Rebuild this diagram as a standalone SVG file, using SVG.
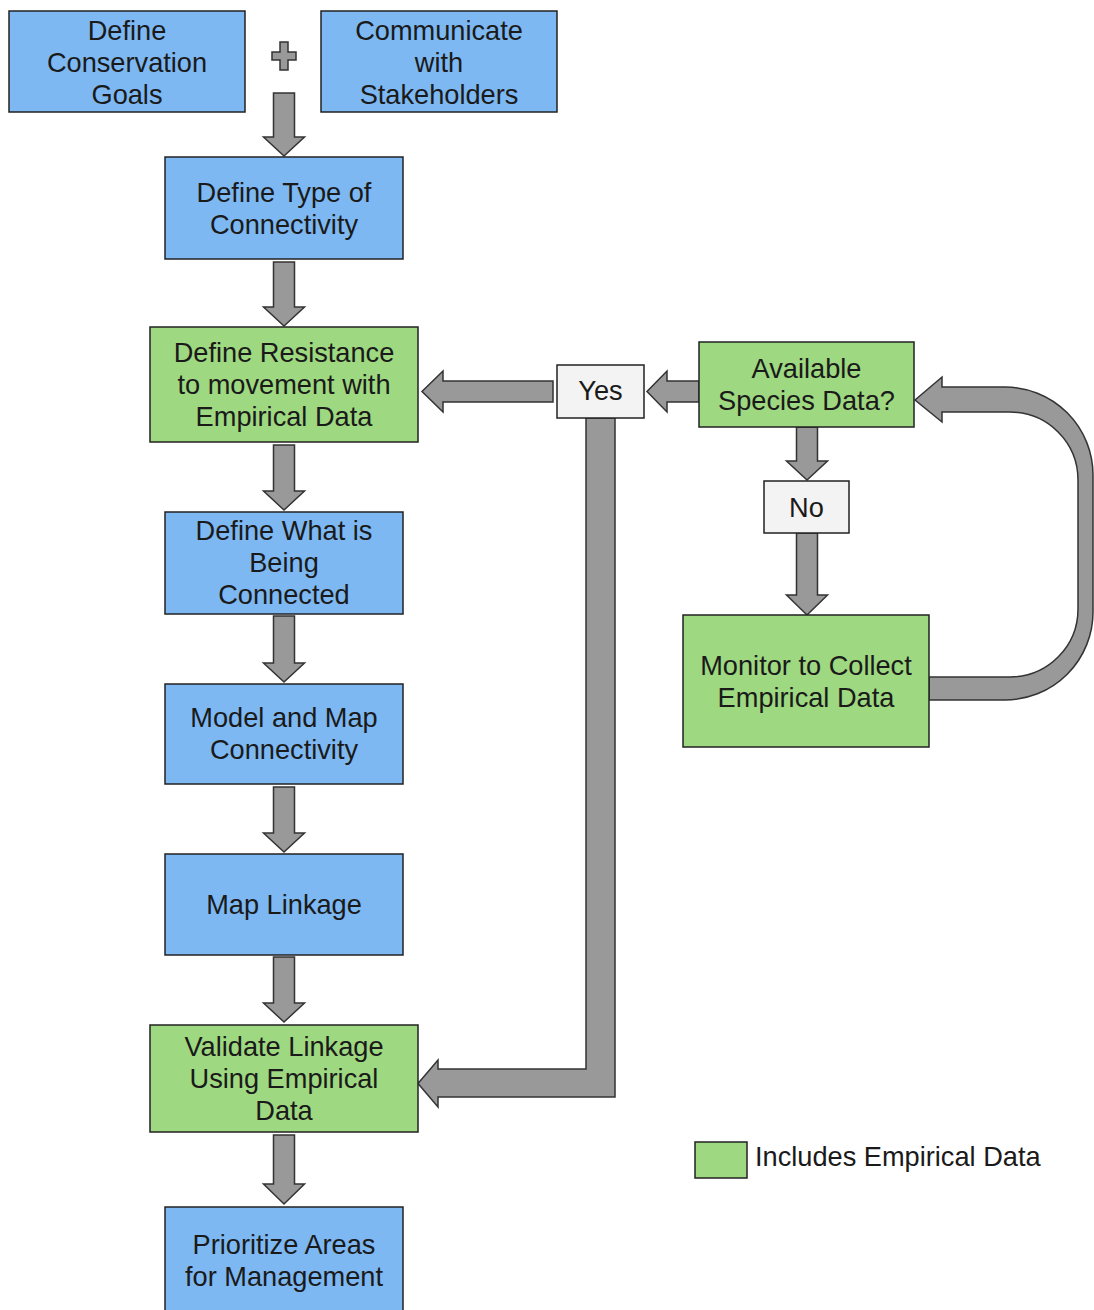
<svg xmlns="http://www.w3.org/2000/svg" width="1094" height="1310" viewBox="0 0 1094 1310">
<style>
.blue{fill:#7db8f2;stroke:#222;stroke-width:1.5}
.green{fill:#9ed880;stroke:#222;stroke-width:1.5}
.lbl{fill:#f3f3f3;stroke:#222;stroke-width:1.5}
.arr{fill:#999;stroke:#333;stroke-width:1.5;stroke-linejoin:miter}
text{font-family:"Liberation Sans",Arial,sans-serif;font-size:27.2px;fill:#1a1a1a;text-anchor:middle}
.leg{text-anchor:start}
</style>
<rect width="1094" height="1310" fill="#fff"/>
<g id="connectors">
<g id="plus"><path class="arr" d="M280,42h8v10h8v8h-8v10h-8v-10h-8v-8h8z"/></g>
<path class="arr" d="M273.5,93h21v44h10l-20.5,19l-20.5,-19h10z"/>
<path class="arr" d="M273.5,262h21v45h10l-20.5,19l-20.5,-19h10z"/>
<path class="arr" d="M273.5,445h21v46h10l-20.5,19l-20.5,-19h10z"/>
<path class="arr" d="M273.5,616h21v47h10l-20.5,19l-20.5,-19h10z"/>
<path class="arr" d="M273.5,787h21v46h10l-20.5,19l-20.5,-19h10z"/>
<path class="arr" d="M273.5,957h21v46h10l-20.5,19l-20.5,-19h10z"/>
<path class="arr" d="M273.5,1135h21v49h10l-20.5,20l-20.5,-20h10z"/>
<path class="arr" d="M553,381v21h-110v10l-21,-20.5l21,-20.5v10z"/>
<path class="arr" d="M699,381v21h-32v10l-20,-20.5l20,-20.5v10z"/>
<path class="arr" d="M796.5,427h21v34h10l-20.5,19l-20.5,-19h10z"/>
<path class="arr" d="M796.5,533h21v62h10l-20.5,20l-20.5,-20h10z"/>
<path class="arr" d="M586,418h29v679h-177v10l-20,-23.5l20,-23.5v9h148z"/>
<path class="arr" d="M915,400L942,377V387H1005A88,88 0 0 1 1093,475V612A88,88 0 0 1 1005,700H929V677H1010A68,68 0 0 0 1078,609V480A68,68 0 0 0 1010,412H942V422Z"/>
</g>
<g id="n1"><rect class="blue" x="9" y="11" width="236" height="101"/><text x="127" y="39.5">Define</text><text x="127" y="71.5">Conservation</text><text x="127" y="103.5">Goals</text></g>
<g id="n2"><rect class="blue" x="321" y="11" width="236" height="101"/><text x="439" y="39.5">Communicate</text><text x="439" y="71.5">with</text><text x="439" y="103.5">Stakeholders</text></g>
<g id="n3"><rect class="blue" x="165" y="157" width="238" height="102"/><text x="284" y="202">Define Type of</text><text x="284" y="234">Connectivity</text></g>
<g id="n4"><rect class="green" x="150" y="327" width="268" height="115"/><text x="284" y="362">Define Resistance</text><text x="284" y="394">to movement with</text><text x="284" y="426">Empirical Data</text></g>
<g id="n5"><rect class="blue" x="165" y="512" width="238" height="102"/><text x="284" y="540">Define What is</text><text x="284" y="572">Being</text><text x="284" y="604">Connected</text></g>
<g id="n6"><rect class="blue" x="165" y="684" width="238" height="100"/><text x="284" y="727">Model and Map</text><text x="284" y="759">Connectivity</text></g>
<g id="n7"><rect class="blue" x="165" y="854" width="238" height="101"/><text x="284" y="914">Map Linkage</text></g>
<g id="n8"><rect class="green" x="150" y="1025" width="268" height="107"/><text x="284" y="1056">Validate Linkage</text><text x="284" y="1088">Using Empirical</text><text x="284" y="1120">Data</text></g>
<g id="n9"><rect class="blue" x="165" y="1207" width="238" height="110"/><text x="284" y="1254">Prioritize Areas</text><text x="284" y="1286">for Management</text></g>
<g id="yes"><rect class="lbl" x="557" y="365" width="87" height="53"/><text x="600.5" y="400">Yes</text></g>
<g id="avail"><rect class="green" x="699" y="342" width="215" height="85"/><text x="806.5" y="378">Available</text><text x="806.5" y="410">Species Data?</text></g>
<g id="no"><rect class="lbl" x="764" y="481" width="85" height="52"/><text x="806.5" y="517">No</text></g>
<g id="monitor"><rect class="green" x="683" y="615" width="246" height="132"/><text x="806" y="675">Monitor to Collect</text><text x="806" y="707">Empirical Data</text></g>
<g id="legend"><rect class="green" x="695" y="1142" width="52" height="36"/><text class="leg" x="755" y="1166">Includes Empirical Data</text></g>
</svg>
